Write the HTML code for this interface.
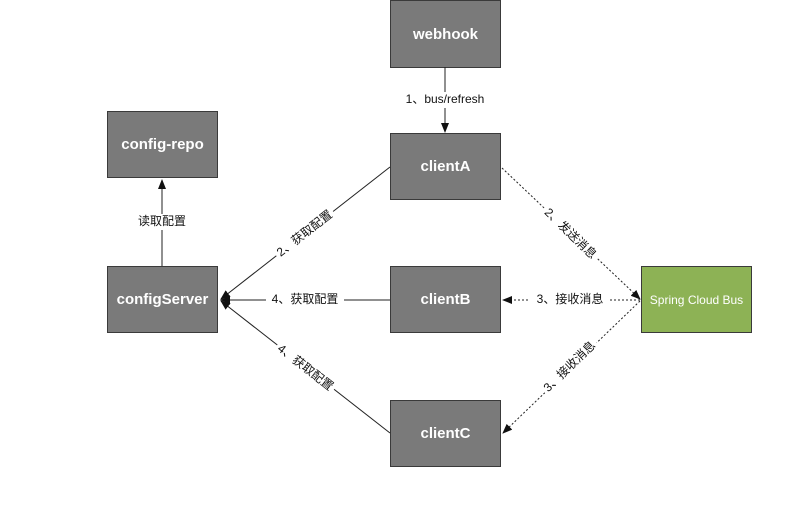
<!DOCTYPE html>
<html><head><meta charset="utf-8"><style>
body{margin:0;background:#fff}
.b{position:absolute;width:109px;height:65px;background:#7a7a7a;border:1px solid #3a3a3a;color:#fff;font:bold 15px "Liberation Sans","Noto Sans CJK SC",sans-serif;display:flex;align-items:center;justify-content:center}
</style></head><body>
<div style="position:relative;width:808px;height:505px;overflow:hidden;font-family:'Liberation Sans','Noto Sans CJK SC',sans-serif">
<div class="b" style="left:390px;top:0;height:66px">webhook</div>
<div class="b" style="left:107px;top:111px">config-repo</div>
<div class="b" style="left:390px;top:133px">clientA</div>
<div class="b" style="left:107px;top:266px">configServer</div>
<div class="b" style="left:390px;top:266px">clientB</div>
<div class="b" style="left:390px;top:400px">clientC</div>
<div class="b" style="left:641px;top:266px;background:#8db255;font-weight:normal;font-size:12px">Spring Cloud Bus</div>
<svg width="808" height="505" style="position:absolute;left:0;top:0" font-family="Liberation Sans, Noto Sans CJK SC, sans-serif" font-size="12" fill="#111">
<defs><marker id="a" markerWidth="10" markerHeight="8" refX="9" refY="4" orient="auto" markerUnits="userSpaceOnUse"><path d="M0,0L10,4L0,8z" fill="#111"/></marker></defs>
<g stroke="#222" stroke-width="1" fill="none">
<line x1="445" y1="67" x2="445" y2="132" marker-end="url(#a)"/>
<line x1="162" y1="266" x2="162" y2="180" marker-end="url(#a)"/>
<line x1="390" y1="167" x2="221" y2="299" marker-end="url(#a)"/>
<line x1="390" y1="300" x2="221" y2="300" marker-end="url(#a)"/>
<line x1="390" y1="433" x2="221" y2="301" marker-end="url(#a)"/>
<g stroke-dasharray="2,2">
<line x1="502" y1="168" x2="640" y2="299" marker-end="url(#a)"/>
<line x1="640" y1="300" x2="503" y2="300" marker-end="url(#a)"/>
<line x1="640" y1="301" x2="503" y2="433" marker-end="url(#a)"/>
</g></g>
<g text-anchor="middle" dominant-baseline="middle">
<rect x="392" y="92" width="106" height="16" fill="#fff"/><text x="445" y="100">1、bus/refresh</text>
<rect x="132" y="214" width="60" height="16" fill="#fff"/><text x="162" y="222">读取配置</text>
<g transform="translate(305,234) rotate(-38)"><rect x="-36" y="-8" width="72" height="16" fill="#fff"/><text>2、获取配置</text></g>
<rect x="266" y="292" width="78" height="16" fill="#fff"/><text x="305" y="300">4、获取配置</text>
<g transform="translate(305,368) rotate(38)"><rect x="-36" y="-8" width="72" height="16" fill="#fff"/><text>4、获取配置</text></g>
<g transform="translate(570,234) rotate(44)"><rect x="-36" y="-8" width="72" height="16" fill="#fff"/><text>2、发送消息</text></g>
<rect x="530" y="292" width="80" height="16" fill="#fff"/><text x="570" y="300">3、接收消息</text>
<g transform="translate(570,367) rotate(-44)"><rect x="-36" y="-8" width="72" height="16" fill="#fff"/><text>3、接收消息</text></g>
</g></svg></div></body></html>
